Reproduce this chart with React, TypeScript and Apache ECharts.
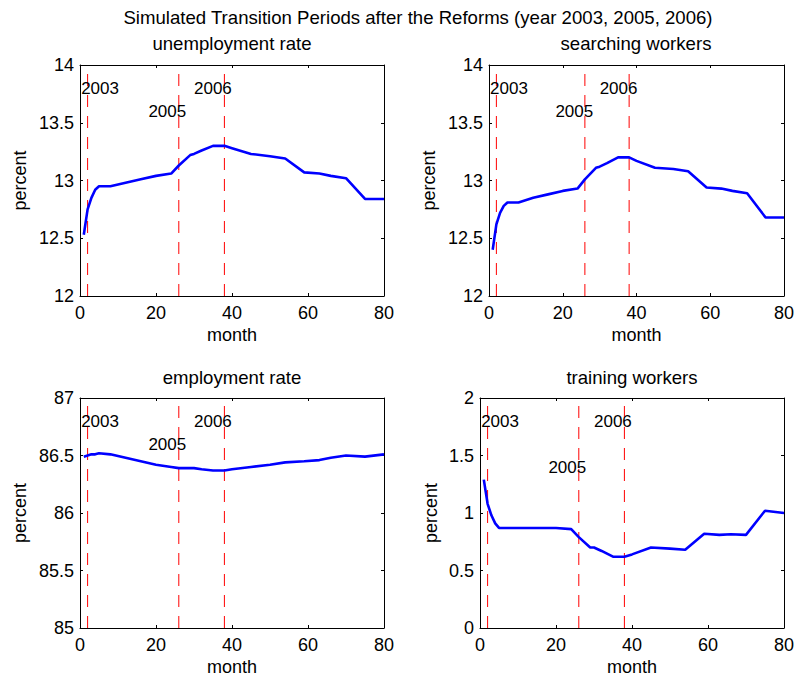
import React, { useEffect, useRef } from "react";
import * as echarts from "echarts";

// ---- data ----
const months = [1, 2, 3, 4, 5, 8, 12, 16, 20, 24, 26, 29, 30, 32, 35, 38, 40, 45, 50, 54, 59, 63, 66, 70, 75, 80];
const unemployment = [12.53, 12.75, 12.85, 12.92, 12.95, 12.95, 12.98, 13.01, 13.04, 13.06, 13.13, 13.22, 13.23, 13.26, 13.3, 13.3, 13.28, 13.23, 13.21, 13.19, 13.07, 13.06, 13.04, 13.02, 12.84, 12.84];
const searching = [12.4, 12.62, 12.72, 12.78, 12.81, 12.81, 12.85, 12.88, 12.91, 12.93, 13.01, 13.11, 13.12, 13.15, 13.2, 13.2, 13.17, 13.11, 13.1, 13.08, 12.94, 12.93, 12.91, 12.89, 12.68, 12.68];
const employment = [86.49, 86.5, 86.51, 86.51, 86.52, 86.51, 86.48, 86.45, 86.42, 86.4, 86.39, 86.39, 86.39, 86.38, 86.37, 86.37, 86.38, 86.4, 86.42, 86.44, 86.45, 86.46, 86.48, 86.5, 86.49, 86.51];
const training = [1.29, 1.08, 0.98, 0.91, 0.87, 0.87, 0.87, 0.87, 0.87, 0.86, 0.79, 0.7, 0.7, 0.67, 0.62, 0.62, 0.64, 0.7, 0.69, 0.68, 0.82, 0.81, 0.815, 0.81, 1.02, 1.0];

const reformMonths = [2, 26, 38];
const reformLabels = ["2003", "2005", "2006"];
const labelMonths = [0.3, 18, 30];

const mainTitle = "Simulated Transition Periods after the Reforms (year 2003, 2005, 2006)";
const panelTitles = ["unemployment rate", "searching workers", "employment rate", "training workers"];
const panelValues = [unemployment, searching, employment, training];
const yRanges = [
  [12, 14],
  [12, 14],
  [85, 87],
  [0, 2],
];
const labelYs = [
  [13.8, 13.6, 13.8],
  [13.8, 13.6, 13.8],
  [86.8, 86.6, 86.8],
  [1.8, 1.4, 1.8],
];
const xMin = 0;
const xMax = 80;
const xInterval = 20;
const yInterval = 0.5;

// ---- layout ----
const layouts = [
  { left: 80, top: 65, width: 304, height: 231, yNameGap: 51, titleX: 232, titleY: 43 },
  { left: 489, top: 65, width: 295, height: 231, yNameGap: 51, titleX: 636, titleY: 43 },
  { left: 80, top: 398, width: 304, height: 230, yNameGap: 51, titleX: 232, titleY: 377 },
  { left: 480, top: 398, width: 304, height: 230, yNameGap: 40, titleX: 632, titleY: 377 },
];

const FONT = "'Liberation Sans', Arial, Helvetica, sans-serif";
const FS_TITLE = 18.6;
const FS_AXIS = 18;
const FS_LABEL = 17;

function buildOption() {
  const grid: any[] = [];
  const xAxis: any[] = [];
  const yAxis: any[] = [];
  const series: any[] = [];
  const graphic: any[] = [];

  const tick = { show: true, inside: true, length: 3, lineStyle: { color: "#000", width: 1 } };
  const line = { show: true, onZero: false, lineStyle: { color: "#000", width: 1 } };

  graphic.push({
    type: "text",
    x: 418,
    y: 17,
    style: { text: mainTitle, fontSize: FS_TITLE, fontFamily: FONT, fill: "#000", align: "center", verticalAlign: "middle" },
  });

  layouts.forEach((l, i) => {
    const [yMin, yMax] = yRanges[i];
    grid.push({ left: l.left, top: l.top, width: l.width, height: l.height, show: false, containLabel: false });
    xAxis.push({
      type: "value",
      gridIndex: i,
      min: xMin,
      max: xMax,
      interval: xInterval,
      position: "bottom",
      name: "month",
      nameLocation: "middle",
      nameGap: 30,
      nameTextStyle: { color: "#000", fontSize: FS_AXIS, fontFamily: FONT },
      axisLine: line,
      axisTick: tick,
      axisLabel: { margin: 8, color: "#000", fontSize: FS_AXIS, fontFamily: FONT },
      splitLine: { show: false },
    });
    xAxis.push({
      type: "value",
      gridIndex: i,
      min: xMin,
      max: xMax,
      interval: xInterval,
      position: "top",
      axisLine: line,
      axisTick: tick,
      axisLabel: { show: false },
      splitLine: { show: false },
    });
    yAxis.push({
      type: "value",
      gridIndex: i,
      min: yMin,
      max: yMax,
      interval: yInterval,
      position: "left",
      name: "percent",
      nameLocation: "middle",
      nameGap: l.yNameGap,
      nameTextStyle: { color: "#000", fontSize: FS_AXIS, fontFamily: FONT },
      axisLine: line,
      axisTick: tick,
      axisLabel: { margin: 6, color: "#000", fontSize: FS_AXIS, fontFamily: FONT },
      splitLine: { show: false },
    });
    yAxis.push({
      type: "value",
      gridIndex: i,
      min: yMin,
      max: yMax,
      interval: yInterval,
      position: "right",
      axisLine: line,
      axisTick: tick,
      axisLabel: { show: false },
      splitLine: { show: false },
    });

    const xi = 2 * i;
    const yi = 2 * i;

    reformMonths.forEach((m) => {
      series.push({
        type: "line",
        xAxisIndex: xi,
        yAxisIndex: yi,
        data: [
          [m, yMin],
          [m, yMax],
        ],
        symbol: "none",
        silent: true,
        z: 2,
        lineStyle: { color: "#ff0000", width: 1, type: [12, 9] },
      });
    });

    series.push({
      type: "line",
      name: panelTitles[i],
      xAxisIndex: xi,
      yAxisIndex: yi,
      data: months.map((m, k) => [m, panelValues[i][k]]),
      symbol: "none",
      z: 3,
      lineStyle: { color: "#0000ff", width: 2.6 },
    });

    series.push({
      type: "scatter",
      xAxisIndex: xi,
      yAxisIndex: yi,
      symbolSize: 0,
      itemStyle: { color: "#000", opacity: 1 },
      silent: true,
      z: 4,
      data: reformLabels.map((name, k) => ({ name, value: [labelMonths[k], labelYs[i][k]] })),
      label: {
        show: true,
        formatter: "{b}",
        position: "right",
        distance: 0,
        color: "#000",
        opacity: 1,
        fontSize: FS_LABEL,
        fontFamily: FONT,
      },
    });

    graphic.push({
      type: "text",
      x: l.titleX,
      y: l.titleY,
      style: { text: panelTitles[i], fontSize: FS_TITLE, fontFamily: FONT, fill: "#000", align: "center", verticalAlign: "middle" },
    });
  });

  return {
    animation: false,
    backgroundColor: "#ffffff",
    textStyle: { fontFamily: FONT },
    grid,
    xAxis,
    yAxis,
    series,
    graphic,
  };
}

export default function App() {
  const ref = useRef<HTMLDivElement>(null);
  useEffect(() => {
    document.body.style.margin = "0";
    const chart = echarts.init(ref.current!, undefined, { renderer: "svg" });
    chart.setOption(buildOption() as any);
    return () => chart.dispose();
  }, []);
  return <div ref={ref} style={{ position: "fixed", left: 0, top: 0, width: 798, height: 679, background: "#fff" }} />;
}
